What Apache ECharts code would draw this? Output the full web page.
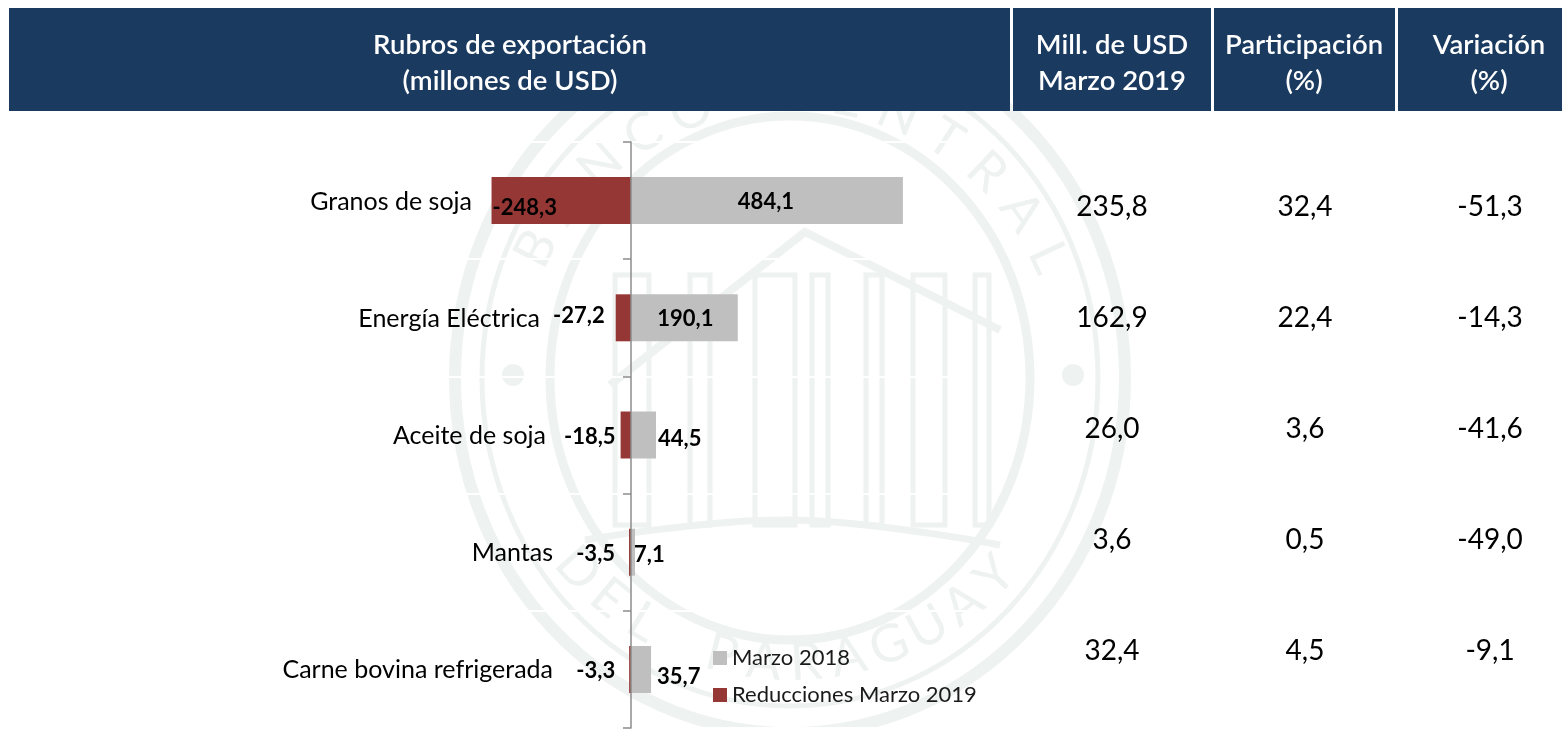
<!DOCTYPE html>
<html>
<head>
	<title>Rubros de exportación</title>
	<meta charset="utf-8">
	<script src="https://cdn.jsdelivr.net/npm/echarts@6/dist/echarts.min.js"></script>
	<style type="text/css">
		html, body { margin: 0; padding: 0; background: #fff; }
		#main { width: 1562px; height: 729px; }
	</style>
</head>
<body>
	<div id="main"></div>
	<script type="text/javascript">
		var categories = ['Granos de soja', 'Energía Eléctrica', 'Aceite de soja', 'Mantas', 'Carne bovina refrigerada'];
		var marzo2018 = [484.1, 190.1, 44.5, 7.1, 35.7];
		var reducciones = [-248.3, -27.2, -18.5, -3.5, -3.3];
		var millUsd = ['235,8', '162,9', '26,0', '3,6', '32,4'];
		var participacion = ['32,4', '22,4', '3,6', '0,5', '4,5'];
		var variacion = ['-51,3', '-14,3', '-41,6', '-49,0', '-9,1'];
		var seriesNames = ['Marzo 2018', 'Reducciones Marzo 2019'];

		var FONT = 'Lato';
		var NAVY = '#1a3a60';
		var SEAL = '#eef2f0';

		// label placement per category, the source chart nudged each one by hand
		var greyLabels = [
			{position: 'inside', offset: [-1, 1]},
			{position: 'inside', offset: [1, 1]},
			{position: 'right', offset: [-3, 4]},
			{position: 'right', offset: [-6, 3]},
			{position: 'right', offset: [1, 8]}
		];
		var redLabels = [
			{position: 'insideLeft', offset: [-4, 7]},
			{position: 'left', offset: [-6, -2]},
			{position: 'left', offset: [0, 2]},
			{position: 'left', offset: [-9, 2]},
			{position: 'left', offset: [-9, 2]}
		];
		var catPadding = [81, 13, 7, 0, 0];

		function labelled(values, layout){
			return values.map(function(v, i){
				return {value: v, label: layout[i]};
			});
		}

		function sealLetters(text, from, to, bottom){
			var cx = 790, cy = 378, r = 285, out = [];
			var step = (to - from) / (text.length - 1);
			for(var i = 0; i < text.length; i++){
				var a = (from + step * i) * Math.PI / 180;
				var x = cx + r * Math.sin(a);
				var y = bottom ? cy + r * Math.cos(a) : cy - r * Math.cos(a);
				out.push({
					type: 'text', x: x, y: y, z: 0,
					rotation: bottom ? a : -a,
					style: {text: text[i], font: '52px "' + FONT + '"', fill: SEAL, align: 'center', verticalAlign: 'middle'}
				});
			}
			return out;
		}

		function sealParts(){
			var parts = [];
			[[335, 355, 12], [308, 328, 5], [240, 262, 9]].forEach(function(e){
				parts.push({type: 'ellipse', z: 0, shape: {cx: 790, cy: 378, rx: e[0], ry: e[1]}, style: {fill: 'none', stroke: SEAL, lineWidth: e[2]}});
			});
			[513, 1073].forEach(function(x){
				parts.push({type: 'circle', z: 0, shape: {cx: x, cy: 375, r: 11}, style: {fill: SEAL}});
			});
			// building in the middle of the seal
			[[615, 34], [690, 20], [755, 40], [812, 16], [866, 16], [913, 32], [975, 14]].forEach(function(c){
				parts.push({type: 'rect', z: 0, shape: {x: c[0], y: 275, width: c[1], height: 250}, style: {fill: 'none', stroke: SEAL, lineWidth: 5}});
			});
			parts.push({type: 'polyline', z: 0, shape: {points: [[610, 385], [805, 232], [1000, 330]]}, style: {fill: 'none', stroke: SEAL, lineWidth: 8}});
			parts.push({type: 'polyline', z: 0, shape: {points: [[585, 540], [790, 520], [1000, 545]], smooth: 0.4}, style: {fill: 'none', stroke: SEAL, lineWidth: 7}});
			return parts.concat(sealLetters('BANCO CENTRAL', -63, 65, false), sealLetters('DEL PARAGUAY', -48, 46, true));
		}

		function headerParts(){
			var parts = [];
			var cells = [
				[9, 1001, ['Rubros de exportación', '(millones de USD)'], 510],
				[1013, 198, ['Mill. de USD', 'Marzo 2019'], 1112],
				[1214, 181, ['Participación', '(%)'], 1304],
				[1398, 164, ['Variación', '(%)'], 1489]
			];
			cells.forEach(function(c){
				parts.push({type: 'rect', z: 10, shape: {x: c[0], y: 8, width: c[1], height: 103}, style: {fill: NAVY}});
				c[2].forEach(function(line, i){
					parts.push({
						type: 'text', z: 11, x: c[3], y: 45 + i * 36,
						style: {text: line, font: '600 27.5px "' + FONT + '"', fill: '#fff', align: 'center', verticalAlign: 'middle'}
					});
				});
			});
			return parts;
		}

		function tableParts(){
			var parts = [];
			[[millUsd, 1112], [participacion, 1305], [variacion, 1490]].forEach(function(col){
				col[0].forEach(function(txt, i){
					parts.push({
						type: 'text', z: 11, x: col[1], y: 206.5 + i * 111,
						style: {text: txt, font: '28px "' + FONT + '"', fill: '#000', align: 'center', verticalAlign: 'middle'}
					});
				});
			});
			return parts;
		}

		var catRich = {};
		catPadding.forEach(function(p, i){
			catRich['c' + i] = {fontFamily: FONT, fontSize: 25, color: '#000', padding: [2, p, 0, 0]};
		});

		var myChart = echarts.init(document.getElementById('main'), null, {renderer: 'canvas'});
		var option = {
			animation: false,
			backgroundColor: '#fff',
			textStyle: {fontFamily: FONT},
			graphic: {elements: sealParts().concat(headerParts(), tableParts())},
			legend: {
				orient: 'vertical',
				left: 708,
				top: 642,
				itemWidth: 14,
				itemHeight: 14,
				itemGap: 15,
				icon: 'rect',
				selectedMode: false,
				data: seriesNames,
				textStyle: {fontFamily: FONT, fontSize: 22, color: '#1a1a1a'}
			},
			// 0.562 px per million, so the zero line lands where the source has it
			grid: {left: 294, width: 674, top: 142, height: 586, outerBoundsMode: 'none'},
			xAxis: {type: 'value', min: -600, max: 600, show: false},
			yAxis: [
				{
					type: 'category',
					inverse: true,
					data: categories,
					offset: -337,
					z: 3,
					axisLine: {onZero: false, lineStyle: {color: '#8c8c8c', width: 1.5}},
					axisTick: {show: true, length: 8, lineStyle: {color: '#8c8c8c', width: 1.5}},
					splitLine: {show: false},
					axisLabel: {
						margin: 78,
						formatter: function(v, i){
							return '{c' + i + '|' + v + '}';
						},
						rich: catRich
					}
				},
				// only there for the white lines that cut across the seal
				{
					type: 'category',
					inverse: true,
					data: categories,
					position: 'left',
					z: 1,
					axisLine: {show: false},
					axisTick: {show: false},
					axisLabel: {show: false},
					splitLine: {show: true, lineStyle: {color: '#fff', width: 2}}
				}
			],
			series: [
				{
					name: seriesNames[0],
					type: 'bar',
					barWidth: 47,
					barGap: '-100%',
					itemStyle: {color: '#bfbfbf'},
					label: {show: true, fontFamily: FONT, fontWeight: 'bold', fontSize: 22, color: '#000',
						formatter: function(p){ return String(p.value.toFixed(1)).replace('.', ','); }},
					data: labelled(marzo2018, greyLabels)
				},
				{
					name: seriesNames[1],
					type: 'bar',
					barWidth: 47,
					itemStyle: {color: '#953735'},
					label: {show: true, fontFamily: FONT, fontWeight: 'bold', fontSize: 22, color: '#000',
						formatter: function(p){ return String(p.value.toFixed(1)).replace('.', ','); }},
					data: labelled(reducciones, redLabels)
				}
			]
		};
		myChart.setOption(option);
	</script>
</body>
</html>
